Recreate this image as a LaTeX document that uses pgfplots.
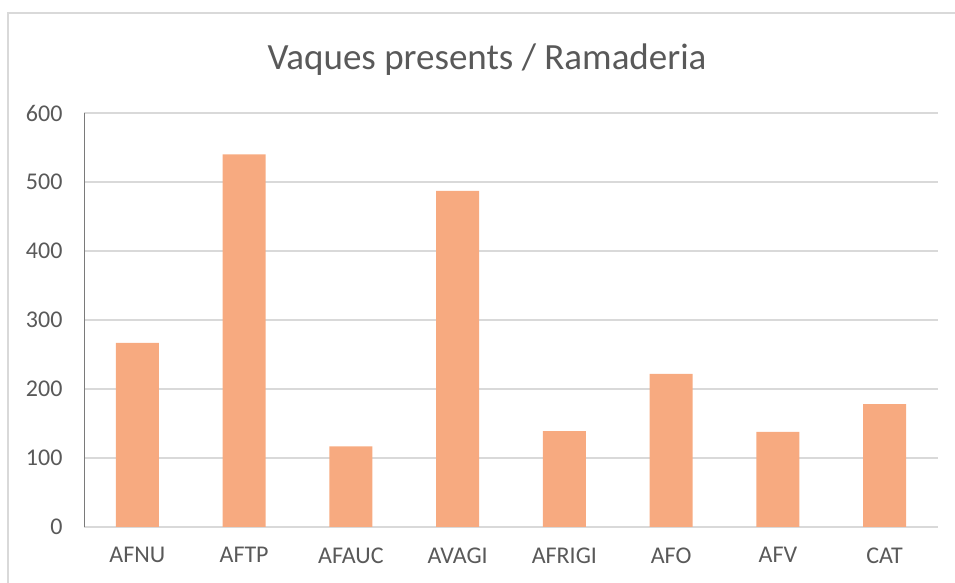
\documentclass[border=0pt]{standalone}
\usepackage{pgfplots}
\pgfplotsset{compat=1.18}
\usepackage{fontspec}
\setmainfont{Carlito}
\definecolor{barc}{HTML}{F7AA80}
\definecolor{txt}{HTML}{595959}
\definecolor{grd}{HTML}{D9D9D9}
\begin{document}
\begin{tikzpicture}[x=1pt,y=1pt]
\useasboundingbox (0,0) rectangle (955,583);
\draw[grd, line width=1.2pt] (8,0) -- (8,570) -- (955,570);
\node[txt, font=\fontsize{37}{40}\selectfont] at (487,523) {Vaques presents / Ramaderia};
\begin{axis}[
  at={(84pt,56pt)}, anchor=south west,
  scale only axis, width=854pt, height=414pt,
  ymin=0, ymax=600, ytick={0,100,...,600},
  xmin=-0.5, xmax=7.5, xtick=data,
  xticklabels={AFNU,AFTP,AFAUC,AVAGI,AFRIGI,AFO,AFV,CAT},
  ymajorgrids, grid style={grd, line width=1.2pt},
  axis x line*=bottom, axis y line*=left,
  x axis line style={grd, line width=1.2pt, -},
  y axis line style={txt!80, line width=1pt, -},
  major tick length=0pt,
  tick label style={txt, font=\fontsize{24}{26}\selectfont},
  /pgf/number format/assume math mode=true,
  yticklabel style={xshift=-18pt},
  xticklabel style={yshift=-17pt},
  ybar, bar width=43pt,
]
\addplot[fill=barc, draw=none] coordinates {(0,267) (1,540) (2,117) (3,487) (4,139) (5,222) (6,138) (7,178)};
\end{axis}
\end{tikzpicture}
\end{document}
